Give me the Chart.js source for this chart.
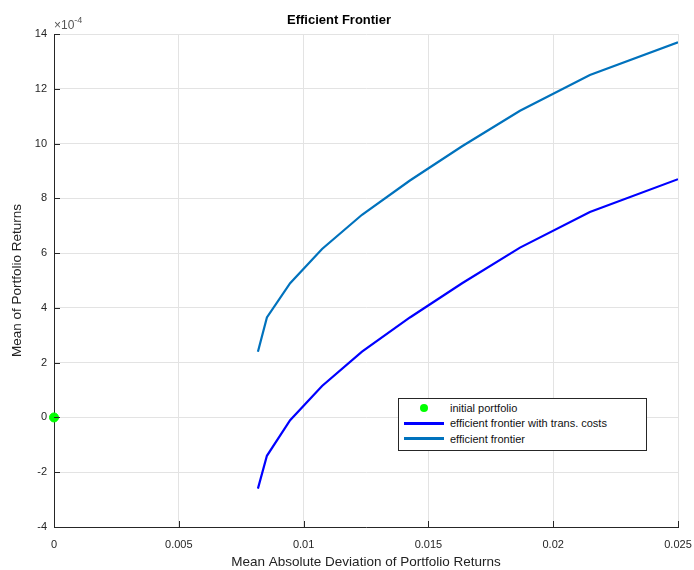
<!DOCTYPE html>
<html>
<head>
<meta charset="utf-8">
<script src="https://cdn.jsdelivr.net/npm/chart.js@4/dist/chart.umd.min.js"></script>
<style>
  html, body { margin: 0; padding: 0; background: #fff; }
  #wrap { position: relative; width: 694px; height: 570px; }
  #legenda {
    position: absolute; left: 398px; top: 398px; width: 247px; height: 50px;
    border: 1px solid #262626; background: #fff;
    font-family: "Liberation Sans", Arial, sans-serif; font-size: 11px; color: #111;
    list-style: none; margin: 0; padding: 1px 0 0 0; box-sizing: content-box;
  }
  #legenda li { display: flex; align-items: center; height: 15.5px; }
  #legenda .amostra { width: 40px; margin-left: 5px; margin-right: 6px; display: flex; justify-content: center; align-items: center; }
</style>
</head>
<body>
<div id="wrap">
  <canvas id="grafico" width="694" height="570"></canvas>
  <ul id="legenda"></ul>
</div>
<script>
// Dados
const desvio = [0.00817, 0.00853, 0.00946, 0.01074, 0.01234, 0.01426, 0.01635, 0.01867, 0.02147, 0.025];
const retornoFronteira = [0.00024, 0.000365, 0.00049, 0.000615, 0.00074, 0.000865, 0.00099, 0.00112, 0.00125, 0.00137];
const retornoCustos = [-0.00026, -0.00014, -0.00001, 0.000115, 0.00024, 0.000365, 0.00049, 0.00062, 0.00075, 0.00087];
const carteiraInicial = [{ x: 0, y: 0 }];
const ticksX = [0, 0.005, 0.01, 0.015, 0.02, 0.025];
const ticksY = [-0.0004, -0.0002, 0, 0.0002, 0.0004, 0.0006, 0.0008, 0.001, 0.0012, 0.0014];

const fonte = '"Liberation Sans", Arial, sans-serif';
const corEixo = "#262626";

const pares = (xs, ys) => xs.map((x, i) => ({ x: x, y: ys[i] }));

// expoente ×10^-4 e ticks para dentro (estilo MATLAB)
const extras = {
  id: "extras",
  afterDraw(chart) {
    const c = chart.ctx, a = chart.chartArea;
    const sx = chart.scales.x, sy = chart.scales.y;
    c.save();
    c.strokeStyle = corEixo;
    c.lineWidth = 1;
    ticksX.forEach(v => {
      const px = Math.round(sx.getPixelForValue(v)) + 0.5;
      c.beginPath(); c.moveTo(px, a.bottom); c.lineTo(px, a.bottom - 6); c.stroke();
    });
    ticksY.forEach(v => {
      const py = Math.round(sy.getPixelForValue(v)) + 0.5;
      c.beginPath(); c.moveTo(a.left, py); c.lineTo(a.left + 6, py); c.stroke();
    });
    c.fillStyle = "#555";
    c.font = "12px " + fonte;
    c.textBaseline = "alphabetic";
    const base = "\u00d710";
    c.fillText(base, 54, 29);
    const w = c.measureText(base).width;
    c.font = "9px " + fonte;
    c.fillText("-4", 54 + w, 23);
    c.restore();
  }
};

const ctx = document.getElementById("grafico").getContext("2d");

const chart = new Chart(ctx, {
  type: "scatter",
  data: {
    datasets: [
      {
        label: "initial portfolio",
        data: carteiraInicial,
        pointRadius: 4.5,
        pointBackgroundColor: "#00ff00",
        pointBorderColor: "#00ff00",
        showLine: false,
        clip: false
      },
      {
        label: "efficient frontier with trans. costs",
        data: pares(desvio, retornoCustos),
        borderColor: "#0000ff",
        borderWidth: 2.2,
        pointRadius: 0,
        showLine: true
      },
      {
        label: "efficient frontier",
        data: pares(desvio, retornoFronteira),
        borderColor: "#0072bd",
        borderWidth: 2.2,
        pointRadius: 0,
        showLine: true
      }
    ]
  },
  options: {
    responsive: false,
    animation: false,
    layout: { padding: { left: 0, right: 16, top: 0, bottom: 0 } },
    plugins: {
      legend: { display: false },
      tooltip: { enabled: false },
      title: {
        display: true,
        text: "Efficient Frontier",
        color: "#000",
        font: { family: fonte, size: 13, weight: "bold" },
        padding: { top: 13, bottom: 5.4 }
      }
    },
    scales: {
      x: {
        type: "linear",
        min: 0,
        max: 0.025,
        afterFit: s => { s.height = 43; s.paddingLeft = 0; s.paddingRight = 0; },
        afterBuildTicks: s => { s.ticks = ticksX.map(v => ({ value: v })); },
        ticks: {
          color: corEixo,
          font: { family: fonte, size: 11 },
          padding: 11,
          maxRotation: 0,
          callback: v => String(+v.toFixed(3))
        },
        grid: { color: "#e3e3e3", drawTicks: false, tickLength: 0 },
        border: { color: corEixo, width: 1 },
        title: {
          display: true,
          text: "Mean Absolute Deviation of Portfolio Returns",
          color: "#222",
          font: { family: fonte, size: 13.5 },
          padding: { top: 0, bottom: 0 }
        }
      },
      y: {
        type: "linear",
        min: -0.0004,
        max: 0.0014,
        afterFit: s => { s.width = 54; },
        afterBuildTicks: s => { s.ticks = ticksY.map(v => ({ value: v })); },
        ticks: {
          color: corEixo,
          font: { family: fonte, size: 11 },
          padding: 7,
          callback: v => String(Math.round(v * 1e4))
        },
        grid: { color: "#e3e3e3", drawTicks: false, tickLength: 0 },
        border: { color: corEixo, width: 1 },
        title: {
          display: true,
          text: "Mean of Portfolio Returns",
          color: "#222",
          font: { family: fonte, size: 13.5 },
          padding: { top: 9, bottom: 0 }
        }
      }
    }
  },
  plugins: [extras]
});

// Legenda dentro do gráfico
function montarLegenda() {
  const lista = document.getElementById("legenda");
  lista.innerHTML = "";
  chart.data.datasets.forEach(ds => {
    const amostra = ds.showLine
      ? `<span style="display:block;width:40px;height:3px;background:${ds.borderColor};"></span>`
      : `<span style="display:block;width:8px;height:8px;border-radius:50%;background:${ds.pointBackgroundColor};"></span>`;
    lista.innerHTML += `<li><span class="amostra">${amostra}</span><span>${ds.label}</span></li>`;
  });
}
montarLegenda();
</script>
</body>
</html>
